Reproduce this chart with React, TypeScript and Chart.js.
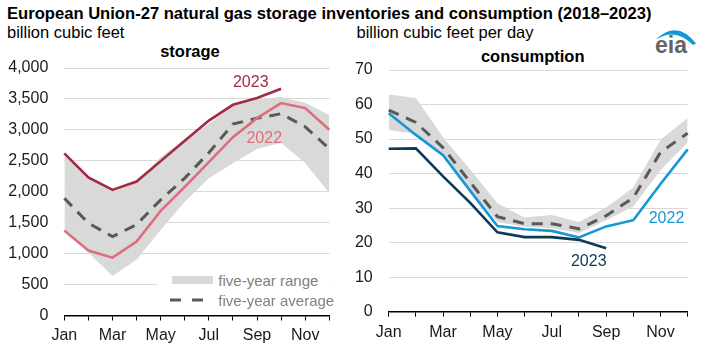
import React, { useEffect, useRef } from 'react';
import { Chart, registerables } from 'chart.js';

Chart.register(...registerables);

// ---------- data ----------
const months = ['Jan', 'Feb', 'Mar', 'Apr', 'May', 'Jun', 'Jul', 'Aug', 'Sep', 'Oct', 'Nov', 'Dec'];

// storage, billion cubic feet
const storage2023 = [2620, 2230, 2030, 2165, 2495, 2825, 3150, 3405, 3515, 3665, null, null];
const storage2022 = [1372, 1049, 935, 1194, 1690, 2080, 2480, 2883, 3190, 3433, 3352, 3001];
const storageAvg = [1896, 1492, 1275, 1470, 1869, 2220, 2630, 3094, 3188, 3261, 3050, 2695];
const storageMin = [1380, 1020, 640, 900, 1380, 1840, 2220, 2460, 2690, 2790, 2460, 1980];
const storageMax = [2600, 2220, 2000, 2150, 2560, 2850, 3100, 3380, 3500, 3530, 3440, 3240];
const storageTicks = [0, 500, 1000, 1500, 2000, 2500, 3000, 3500, 4000];

// consumption, billion cubic feet per day
const cons2023 = [47.2, 47.3, 39.2, 31.5, 23.0, 21.6, 21.6, 20.8, 18.4, null, null, null];
const cons2022 = [57.5, 51.2, 45.3, 35.0, 24.8, 23.9, 23.4, 21.5, 24.7, 26.5, 37.0, 47.0];
const consAvg = [58.4, 54.8, 47.5, 37.5, 27.5, 25.5, 25.5, 24.0, 27.8, 33.0, 46.2, 51.7];
const consMin = [52.6, 51.5, 45.4, 35.3, 26.0, 24.6, 24.2, 22.8, 26.5, 30.5, 41.0, 49.0];
const consMax = [62.9, 61.9, 50.5, 41.2, 31.4, 27.3, 28.0, 26.0, 30.2, 36.0, 49.8, 56.1];
const consTicks = [0, 10, 20, 30, 40, 50, 60, 70];

// ---------- styles ----------
const FONT = "'Liberation Sans', Arial, sans-serif";
const GRID = '#d9d9d9';
const BAND = '#d9d9d9';
const AVG = '#595959';
const TICK_COLOR = '#1a1a1a';

type LabelItem = { text: string; at: number; value: number; color: string };

const labelPlugin = {
  id: 'seriesLabels',
  afterDatasetsDraw(chart: any, _args: any, opts: any) {
    const { ctx, scales } = chart;
    const items: LabelItem[] = (opts && opts.items) || [];
    items.forEach((l) => {
      ctx.save();
      ctx.font = `16px ${FONT}`;
      ctx.fillStyle = l.color;
      ctx.textAlign = 'center';
      ctx.textBaseline = 'middle';
      ctx.fillText(l.text, scales.x.getPixelForValue(l.at), scales.y.getPixelForValue(l.value));
      ctx.restore();
    });
  },
};

type Spec = {
  y2023: (number | null)[];
  y2022: (number | null)[];
  avg: number[];
  min: number[];
  max: number[];
  ticks: number[];
  c2023: string;
  c2022: string;
  yWidth: number;
  xHeight: number;
  padTop: number;
  padRight: number;
  xPad: number;
  labels: LabelItem[];
  fmt: (v: number) => string;
};

function makeConfig(s: Spec): any {
  return {
    type: 'line',
    data: {
      labels: months,
      datasets: [
        { data: s.y2023, borderColor: s.c2023, borderWidth: 2.6, pointRadius: 0, fill: false, tension: 0 },
        { data: s.y2022, borderColor: s.c2022, borderWidth: 2.6, pointRadius: 0, fill: false, tension: 0 },
        { data: s.avg, borderColor: AVG, borderWidth: 3, borderDash: [11, 8], pointRadius: 0, fill: false, tension: 0 },
        { data: s.max, borderColor: 'rgba(0,0,0,0)', borderWidth: 0, pointRadius: 0, backgroundColor: BAND, fill: '+1', tension: 0 },
        { data: s.min, borderColor: 'rgba(0,0,0,0)', borderWidth: 0, pointRadius: 0, fill: false, tension: 0 },
      ],
    },
    options: {
      animation: false,
      responsive: false,
      maintainAspectRatio: false,
      layout: { padding: { top: s.padTop, right: s.padRight, left: 0, bottom: 0 } },
      plugins: {
        legend: { display: false },
        tooltip: { enabled: false },
        seriesLabels: { items: s.labels },
      },
      scales: {
        x: {
          type: 'category',
          offset: false,
          grid: {
            drawOnChartArea: false,
            drawTicks: true,
            tickLength: 5,
            tickColor: '#000',
            tickWidth: 1,
          },
          border: { display: true, color: '#000', width: 1.5 },
          ticks: {
            autoSkip: false,
            maxRotation: 0,
            padding: s.xPad,
            color: TICK_COLOR,
            font: { family: FONT, size: 16 },
            callback: (_v: any, i: number) => (i % 2 === 0 ? months[i] : ''),
          },
          afterFit: (scale: any) => {
            scale.height = s.xHeight;
          },
        },
        y: {
          min: s.ticks[0],
          max: s.ticks[s.ticks.length - 1],
          afterBuildTicks: (scale: any) => {
            scale.ticks = s.ticks.map((v) => ({ value: v }));
          },
          grid: { color: GRID, lineWidth: 1, drawTicks: false },
          border: { display: false },
          ticks: {
            padding: 16,
            color: TICK_COLOR,
            font: { family: FONT, size: 16 },
            callback: (v: any) => s.fmt(Number(v)),
          },
          afterFit: (scale: any) => {
            scale.width = s.yWidth;
            scale.paddingTop = 0;
            scale.paddingBottom = 0;
          },
        },
      },
    },
    plugins: [labelPlugin],
  };
}

function ChartCanvas({ spec, style }: { spec: Spec; style: React.CSSProperties }) {
  const ref = useRef<HTMLCanvasElement | null>(null);
  useEffect(() => {
    if (!ref.current) return;
    const chart = new Chart(ref.current, makeConfig(spec));
    return () => chart.destroy();
  }, []);
  return <canvas ref={ref} width={style.width as number} height={style.height as number} style={style} />;
}

const storageSpec: Spec = {
  y2023: storage2023,
  y2022: storage2022,
  avg: storageAvg,
  min: storageMin,
  max: storageMax,
  ticks: storageTicks,
  c2023: '#a22b40',
  c2022: '#dc6f7b',
  yWidth: 64.3,
  xHeight: 36.5,
  padTop: 12,
  padRight: 20.7,
  xPad: 5,
  labels: [
    { text: '2023', at: 7.74, value: 3757, color: '#a22b40' },
    { text: '2022', at: 8.3, value: 2867, color: '#dc6f7b' },
  ],
  fmt: (v) => v.toLocaleString('en-US'),
};

const consSpec: Spec = {
  y2023: cons2023,
  y2022: cons2022,
  avg: consAvg,
  min: consMin,
  max: consMax,
  ticks: consTicks,
  c2023: '#0d3a55',
  c2022: '#1497d5',
  yWidth: 38.7,
  xHeight: 40.3,
  padTop: 14,
  padRight: 19.3,
  xPad: 6,
  labels: [
    { text: '2022', at: 10.22, value: 27.1, color: '#1497d5' },
    { text: '2023', at: 7.36, value: 14.5, color: '#0d3a55' },
  ],
  fmt: (v) => String(v),
};

const abs = (s: React.CSSProperties): React.CSSProperties => ({ position: 'absolute', whiteSpace: 'nowrap', lineHeight: 1, fontFamily: FONT, ...s });

export default function App() {
  return (
    <div style={{ position: 'fixed', left: 0, top: 0, width: 707, height: 352, background: '#fff', overflow: 'hidden' }}>
      <div style={abs({ left: 7, top: 6, fontSize: 16.6, fontWeight: 'bold', color: '#000' })}>
        European Union-27 natural gas storage inventories and consumption (2018–2023)
      </div>
      <div style={abs({ left: 7, top: 23.5, fontSize: 16.5, color: '#000' })}>billion cubic feet</div>
      <div style={abs({ left: 356.5, top: 23.5, fontSize: 16.5, color: '#000' })}>billion cubic feet per day</div>
      <div style={abs({ left: 190, top: 43.3, fontSize: 16.5, fontWeight: 'bold', color: '#000', transform: 'translateX(-50%)' })}>
        storage
      </div>
      <div style={abs({ left: 532.7, top: 47.7, fontSize: 16.5, fontWeight: 'bold', color: '#000', transform: 'translateX(-50%)' })}>
        consumption
      </div>

      <svg style={{ position: 'absolute', left: 650, top: 24, width: 50, height: 34 }} viewBox="650 24 50 34">
        <path d="M656 39.5 Q677 19 696 43.5 L693 45 Q676 27 656 39.5 Z" fill="#1497d5" />
        <text x="655" y="52.7" fontFamily={FONT} fontWeight="bold" fontSize="23" fill="#646464">eia</text>
      </svg>

      <ChartCanvas spec={storageSpec} style={{ position: 'absolute', left: 0, top: 56, width: 350, height: 296 }} />
      <ChartCanvas spec={consSpec} style={{ position: 'absolute', left: 350, top: 56, width: 357, height: 296 }} />

      {/* legend */}
      <div style={{ position: 'absolute', left: 157, top: 268, width: 172, height: 42, background: '#fff' }}>
        <div style={{ position: 'absolute', left: 14.7, top: 8, width: 41, height: 7.5, background: BAND }} />
        <svg style={{ position: 'absolute', left: 13, top: 28, width: 40, height: 8 }}>
          <line x1="0" y1="4" x2="36" y2="4" stroke={AVG} strokeWidth="3" strokeDasharray="11 11" />
        </svg>
        <div style={abs({ left: 61.3, top: 4.5, fontSize: 15, color: '#808080' })}>five-year range</div>
        <div style={abs({ left: 61.3, top: 25, fontSize: 15, color: '#808080' })}>five-year average</div>
      </div>
    </div>
  );
}
